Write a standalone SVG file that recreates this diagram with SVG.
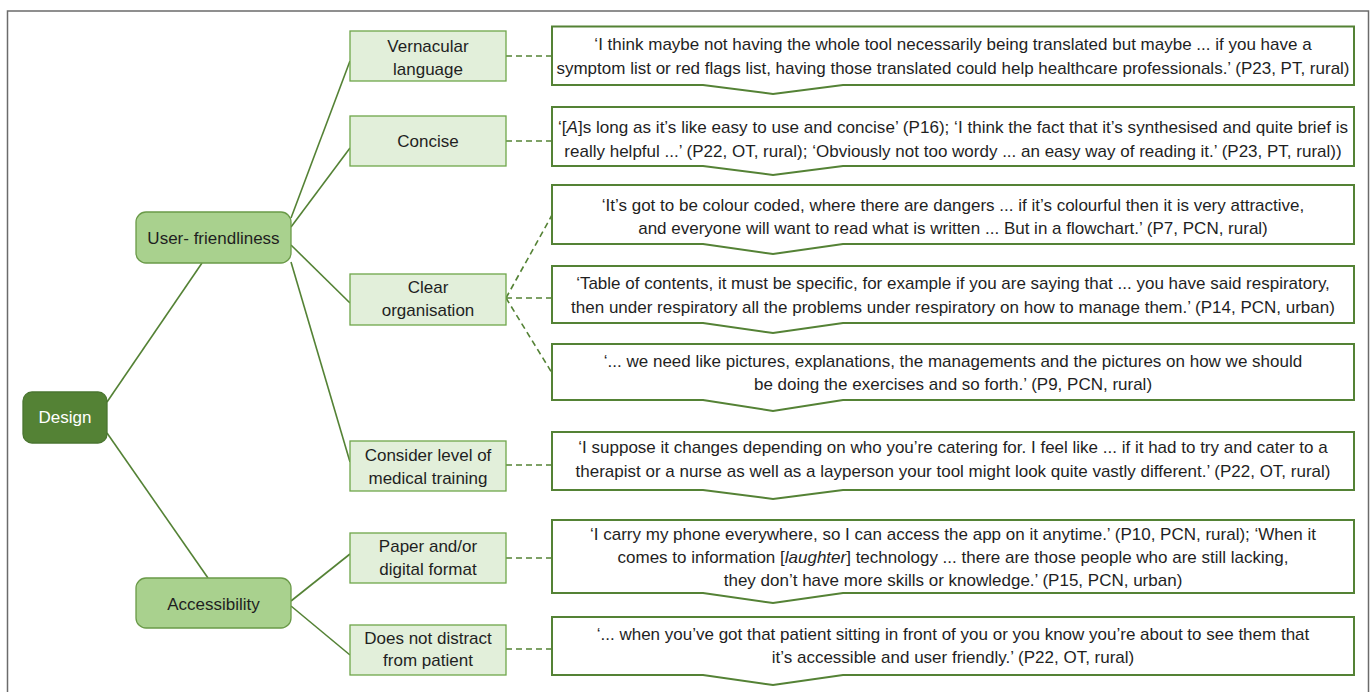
<svg xmlns="http://www.w3.org/2000/svg" width="1372" height="692" viewBox="0 0 1372 692">
<style>
text{font-family:"Liberation Sans",Arial,sans-serif;fill:#1f1f1f}
.lbl{font-size:17px;text-anchor:middle}
.q{font-size:17px;text-anchor:middle}
.sub{fill:#e2efda;stroke:#6fa64a;stroke-width:1.3}
.mid{fill:#a9d18e;stroke:#6a9a48;stroke-width:1.3}
.root{fill:#548235;stroke:#4a7530;stroke-width:1.3}
.quote{fill:#fff;stroke:#548235;stroke-width:2}
.ln{stroke:#548235;stroke-width:1.6;fill:none}
.dl{stroke:#548235;stroke-width:1.6;fill:none;stroke-dasharray:6 4}
</style>
<rect x="7.5" y="11" width="1361" height="720" fill="#fff" stroke="#6b6b6b" stroke-width="1.5"/>
<g id="connectors">
<line class="ln" x1="107" y1="402" x2="202" y2="263"/>
<line class="ln" x1="107" y1="433" x2="208" y2="578"/>
<line class="ln" x1="291" y1="218" x2="350" y2="61"/>
<line class="ln" x1="291" y1="227" x2="350" y2="148"/>
<line class="ln" x1="291" y1="245" x2="350" y2="303"/>
<line class="ln" x1="291" y1="262" x2="350" y2="462"/>
<line class="ln" x1="291" y1="601" x2="350" y2="554"/>
<line class="ln" x1="291" y1="606" x2="350" y2="655"/>
<line class="dl" x1="506" y1="56" x2="552" y2="56"/>
<line class="dl" x1="506" y1="141" x2="552" y2="141"/>
<line class="dl" x1="506" y1="298" x2="552" y2="215"/>
<line class="dl" x1="506" y1="298" x2="552" y2="298"/>
<line class="dl" x1="506" y1="298" x2="552" y2="373"/>
<line class="dl" x1="506" y1="465" x2="552" y2="465"/>
<line class="dl" x1="506" y1="558" x2="552" y2="558"/>
<line class="dl" x1="506" y1="649" x2="552" y2="649"/>
</g>
<g id="design"><rect class="root" x="23" y="392" width="84" height="51" rx="9"/><text class="lbl" x="65" y="423" style="fill:#fff">Design</text></g>
<g id="user-friendliness"><rect class="mid" x="136" y="212" width="155" height="51" rx="10"/><text class="lbl" x="213.5" y="244">User- friendliness</text></g>
<g id="accessibility"><rect class="mid" x="136" y="578" width="155" height="50" rx="10"/><text class="lbl" x="213.5" y="610">Accessibility</text></g>
<g id="vernacular"><rect class="sub" x="350" y="31" width="156" height="50"/><text class="lbl" x="428" y="52">Vernacular</text><text class="lbl" x="428" y="75">language</text></g>
<g id="concise"><rect class="sub" x="350" y="116" width="156" height="50"/><text class="lbl" x="428" y="147">Concise</text></g>
<g id="clear"><rect class="sub" x="350" y="274" width="156" height="51"/><text class="lbl" x="428" y="293">Clear</text><text class="lbl" x="428" y="316">organisation</text></g>
<g id="consider"><rect class="sub" x="350" y="441" width="156" height="50"/><text class="lbl" x="428" y="461">Consider level of</text><text class="lbl" x="428" y="484">medical training</text></g>
<g id="paper"><rect class="sub" x="350" y="533" width="156" height="50"/><text class="lbl" x="428" y="552">Paper and/or</text><text class="lbl" x="428" y="575">digital format</text></g>
<g id="distract"><rect class="sub" x="350" y="625" width="156" height="50"/><text class="lbl" x="428" y="644">Does not distract</text><text class="lbl" x="428" y="666">from patient</text></g>
<g id="q1"><path class="quote" d="M552,26.5 H1354 V85 H843 L773,94 L703,85 H552 Z"/>
<text class="q" x="953" y="50">‘I think maybe not having the whole tool necessarily being translated but maybe ... if you have a</text>
<text class="q" x="953" y="74">symptom list or red flags list, having those translated could help healthcare professionals.’ (P23, PT, rural)</text></g>
<g id="q2"><path class="quote" d="M552,107 H1354 V166 H843 L773,175 L703,166 H552 Z"/>
<text class="q" x="953" y="133" textLength="790" lengthAdjust="spacingAndGlyphs">‘[<tspan font-style="italic">A</tspan>]s long as it’s like easy to use and concise’ (P16); ‘I think the fact that it’s synthesised and quite brief is</text>
<text class="q" x="953" y="157">really helpful ...’ (P22, OT, rural); ‘Obviously not too wordy ... an easy way of reading it.’ (P23, PT, rural))</text></g>
<g id="q3"><path class="quote" d="M552,185 H1354 V244 H843 L773,254 L703,244 H552 Z"/>
<text class="q" x="953" y="211">‘It’s got to be colour coded, where there are dangers ... if it’s colourful then it is very attractive,</text>
<text class="q" x="953" y="234">and everyone will want to read what is written ... But in a flowchart.’ (P7, PCN, rural)</text></g>
<g id="q4"><path class="quote" d="M552,266 H1354 V323 H843 L773,333 L703,323 H552 Z"/>
<text class="q" x="953" y="289">‘Table of contents, it must be specific, for example if you are saying that ... you have said respiratory,</text>
<text class="q" x="953" y="313">then under respiratory all the problems under respiratory on how to manage them.’ (P14, PCN, urban)</text></g>
<g id="q5"><path class="quote" d="M552,344 H1354 V400 H843 L773,411 L703,400 H552 Z"/>
<text class="q" x="953" y="367">‘... we need like pictures, explanations, the managements and the pictures on how we should</text>
<text class="q" x="953" y="390">be doing the exercises and so forth.’ (P9, PCN, rural)</text></g>
<g id="q6"><path class="quote" d="M552,432 H1354 V490 H843 L773,499 L703,490 H552 Z"/>
<text class="q" x="953" y="453">‘I suppose it changes depending on who you’re catering for. I feel like ... if it had to try and cater to a</text>
<text class="q" x="953" y="477">therapist or a nurse as well as a layperson your tool might look quite vastly different.’ (P22, OT, rural)</text></g>
<g id="q7"><path class="quote" d="M552,520 H1354 V593 H843 L773,603 L703,593 H552 Z"/>
<text class="q" x="953" y="540">‘I carry my phone everywhere, so I can access the app on it anytime.’ (P10, PCN, rural); ‘When it</text>
<text class="q" x="953" y="563">comes to information [<tspan font-style="italic">laughter</tspan>] technology ... there are those people who are still lacking,</text>
<text class="q" x="953" y="586">they don’t have more skills or knowledge.’ (P15, PCN, urban)</text></g>
<g id="q8"><path class="quote" d="M552,617 H1354 V675 H843 L773,685 L703,675 H552 Z"/>
<text class="q" x="953" y="640">‘... when you’ve got that patient sitting in front of you or you know you’re about to see them that</text>
<text class="q" x="953" y="663">it’s accessible and user friendly.’ (P22, OT, rural)</text></g>
</svg>
